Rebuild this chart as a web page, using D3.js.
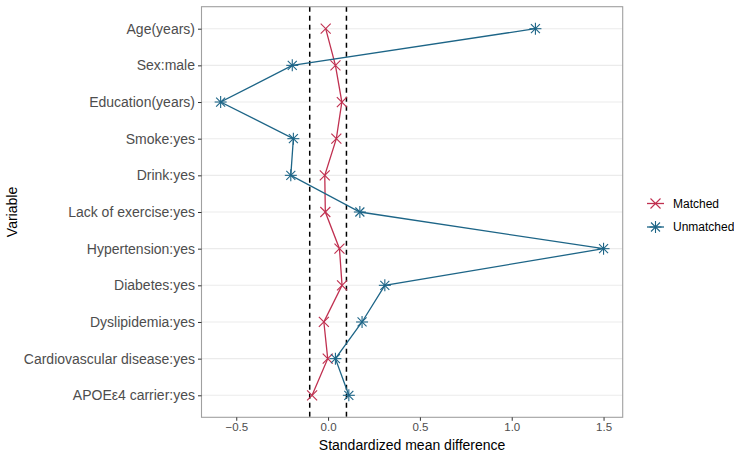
<!DOCTYPE html>
<html>
<head>
<meta charset="utf-8">
<script src="https://cdn.jsdelivr.net/npm/d3@7"></script>
<style>
  html, body { margin: 0; padding: 0; background: #fff; }
  svg { display: block; font-family: "Liberation Sans", Arial, sans-serif; }
</style>
</head>
<body>
<svg id="chart" width="734" height="455"></svg>
<script>
const categories = ["Age(years)", "Sex:male", "Education(years)", "Smoke:yes", "Drink:yes",
  "Lack of exercise:yes", "Hypertension:yes", "Diabetes:yes", "Dyslipidemia:yes",
  "Cardiovascular disease:yes", "APOEε4 carrier:yes"];
const matched = [-0.013, 0.040, 0.075, 0.045, -0.018, -0.015, 0.062, 0.076, -0.023, -0.002, -0.087];
const unmatched = [1.129, -0.195, -0.585, -0.189, -0.203, 0.173, 1.500, 0.309, 0.185, 0.040, 0.113];
const thresholds = [-0.1, 0.1];
const xTicks = [-0.5, 0.0, 0.5, 1.0, 1.5];
const seriesNames = ["Matched", "Unmatched"];
const seriesColors = ["#c03050", "#1d6587"];

const svg = d3.select("#chart");
const panel = { left: 201.5, right: 622.7, top: 6.7, bottom: 417.3 };

const all = matched.concat(unmatched);
const ext = d3.extent(all);
const pad = (ext[1] - ext[0]) * 0.05;
const x = d3.scaleLinear().domain([ext[0] - pad, ext[1] + pad]).range([panel.left, panel.right]);
const y = d3.scalePoint().domain(categories).range([panel.top, panel.bottom]).padding(0.6);

// gridlines (horizontal only)
svg.append("g").selectAll("line").data(categories).join("line")
  .attr("x1", panel.left).attr("x2", panel.right)
  .attr("y1", d => y(d)).attr("y2", d => y(d))
  .attr("stroke", "#ebebeb").attr("stroke-width", 1.1);

// dashed threshold lines
svg.append("g").selectAll("line").data(thresholds).join("line")
  .attr("x1", d => x(d)).attr("x2", d => x(d))
  .attr("y1", panel.top).attr("y2", panel.bottom)
  .attr("stroke", "#000").attr("stroke-width", 1.5).attr("stroke-dasharray", "5,4");

// panel border
svg.append("rect")
  .attr("x", panel.left).attr("y", panel.top)
  .attr("width", panel.right - panel.left).attr("height", panel.bottom - panel.top)
  .attr("fill", "none").attr("stroke", "#a0a0a0").attr("stroke-width", 1.1);

// axes
const xAxis = svg.append("g").attr("transform", `translate(0,${panel.bottom})`)
  .call(d3.axisBottom(x).tickValues(xTicks).tickSize(3.5).tickPadding(2.5)
    .tickFormat(d => d3.format(".1f")(d)));
xAxis.select(".domain").remove();
xAxis.selectAll(".tick line").attr("stroke", "#333");
xAxis.selectAll("text").attr("fill", "#4d4d4d").style("font-size", "11.5px")
  .style("font-family", "Liberation Sans, Arial, sans-serif");

const yAxis = svg.append("g").attr("transform", `translate(${panel.left},0)`)
  .call(d3.axisLeft(y).tickSize(3.5).tickPadding(3));
yAxis.select(".domain").remove();
yAxis.selectAll(".tick line").attr("stroke", "#333");
yAxis.selectAll("text").attr("fill", "#4d4d4d").style("font-size", "14px")
  .style("font-family", "Liberation Sans, Arial, sans-serif");

// axis titles
svg.append("text").attr("x", (panel.left + panel.right) / 2).attr("y", 450)
  .attr("text-anchor", "middle").attr("fill", "#000").style("font-size", "14px")
  .text("Standardized mean difference");
svg.append("text").attr("transform", `translate(17,${(panel.top + panel.bottom) / 2}) rotate(-90)`)
  .attr("text-anchor", "middle").attr("fill", "#000").style("font-size", "14px")
  .text("Variable");

// marker helpers
function drawX(g, cx, cy, r, color) {
  g.append("line").attr("x1", cx - r).attr("y1", cy - r).attr("x2", cx + r).attr("y2", cy + r)
    .attr("stroke", color).attr("stroke-width", 1.1);
  g.append("line").attr("x1", cx - r).attr("y1", cy + r).attr("x2", cx + r).attr("y2", cy - r)
    .attr("stroke", color).attr("stroke-width", 1.1);
}
function drawStar(g, cx, cy, r, color) {
  drawX(g, cx, cy, r * 0.75, color);
  g.append("line").attr("x1", cx - r).attr("y1", cy).attr("x2", cx + r).attr("y2", cy)
    .attr("stroke", color).attr("stroke-width", 1.1);
  g.append("line").attr("x1", cx).attr("y1", cy - r).attr("x2", cx).attr("y2", cy + r)
    .attr("stroke", color).attr("stroke-width", 1.1);
}

const series = [
  { name: seriesNames[0], values: matched, color: seriesColors[0], marker: drawX, r: 5 },
  { name: seriesNames[1], values: unmatched, color: seriesColors[1], marker: drawStar, r: 6 }
];

const line = d3.line().x(d => x(d.v)).y(d => y(d.c));

series.forEach(s => {
  const pts = categories.map((c, i) => ({ c, v: s.values[i] }));
  svg.append("path").datum(pts).attr("d", line)
    .attr("fill", "none").attr("stroke", s.color).attr("stroke-width", 1.3);
  const g = svg.append("g");
  pts.forEach(p => s.marker(g, x(p.v), y(p.c), s.r, s.color));
});

// legend
const legend = svg.append("g");
const legendY = d3.scalePoint().domain(seriesNames).range([203.5, 227]);
series.forEach(s => {
  const ly = legendY(s.name);
  legend.append("line").attr("x1", 647).attr("x2", 664).attr("y1", ly).attr("y2", ly)
    .attr("stroke", s.color).attr("stroke-width", 1.3);
  s.marker(legend, 655.5, ly, s.r, s.color);
  legend.append("text").attr("x", 673).attr("y", ly).attr("dy", "0.35em")
    .attr("fill", "#000").style("font-size", "12px").text(s.name);
});
</script>
</body>
</html>
